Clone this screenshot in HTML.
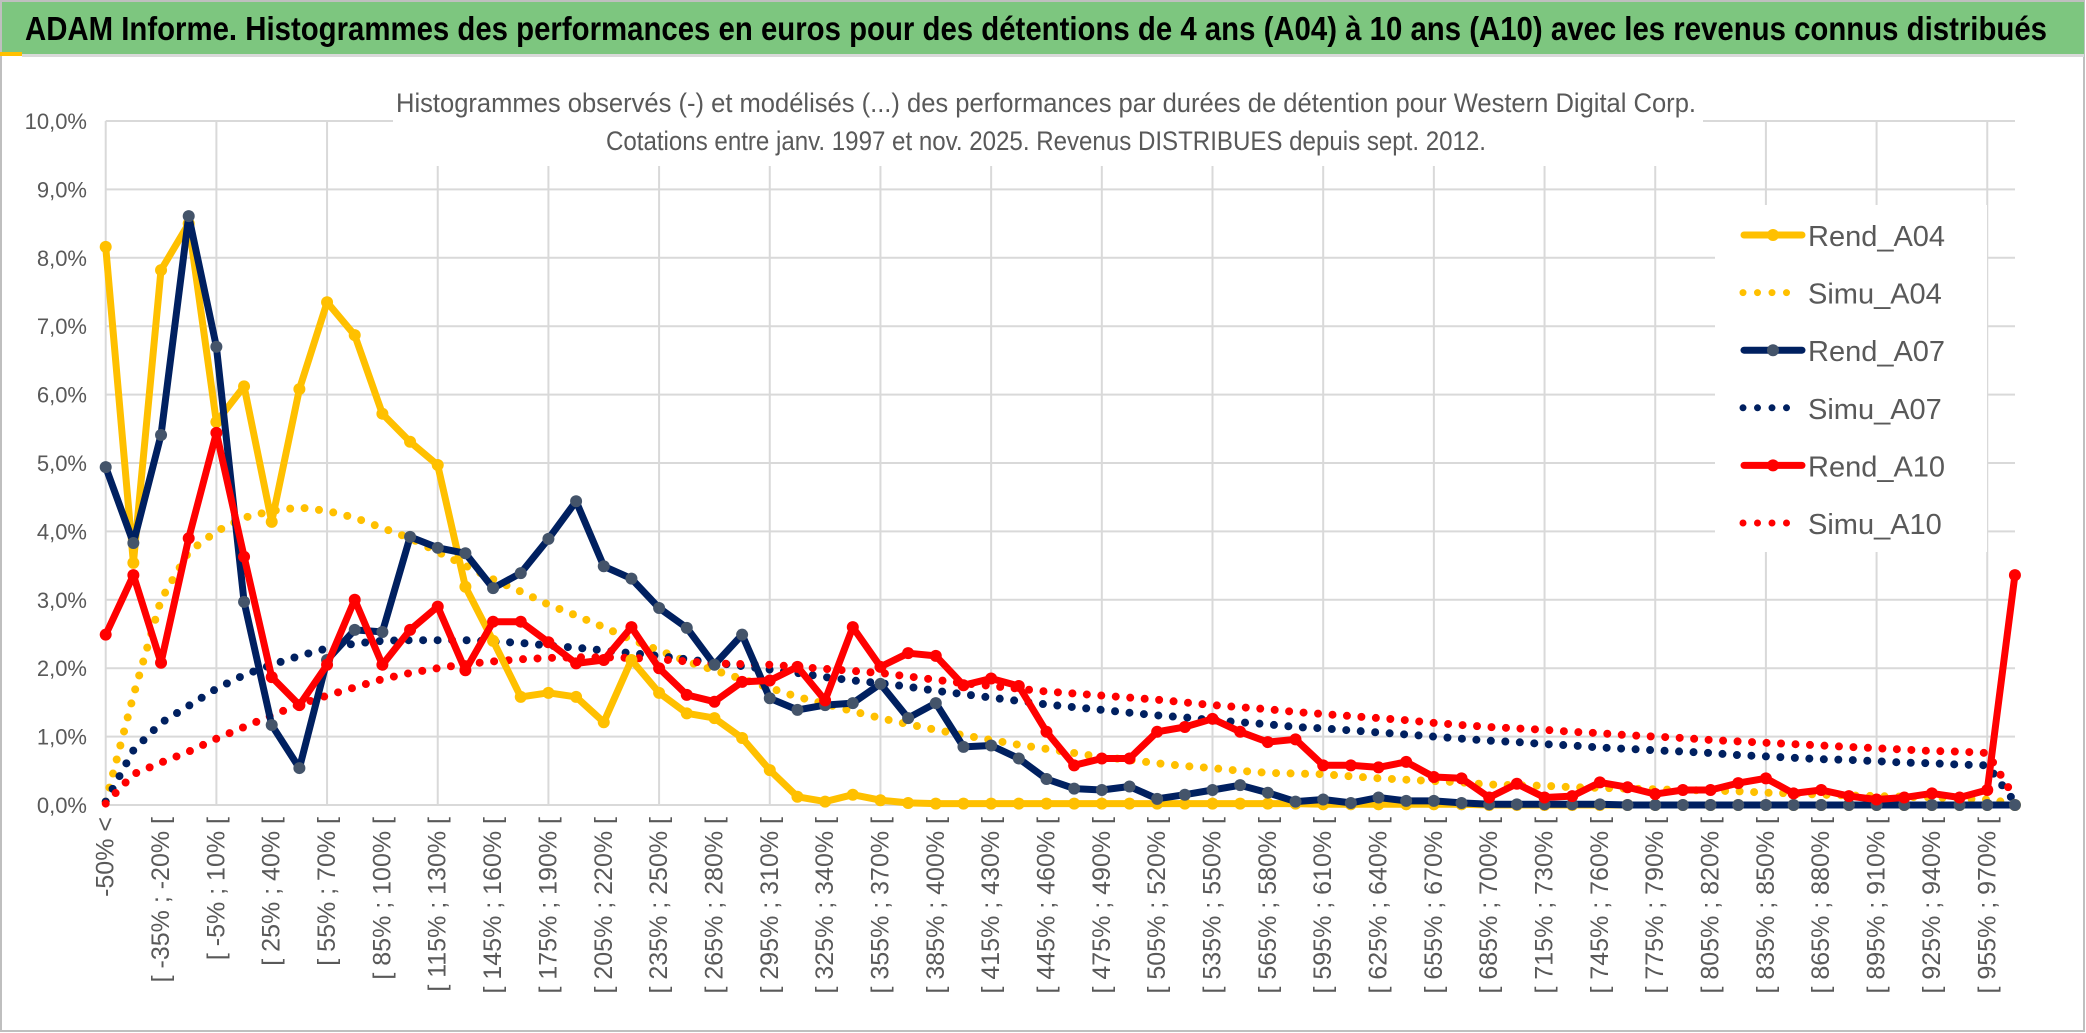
<!DOCTYPE html>
<html><head><meta charset="utf-8"><style>
html,body{margin:0;padding:0;background:#fff;}
svg{display:block;font-family:"Liberation Sans",sans-serif;}
</style></head><body>
<svg id="chart" width="2086" height="1033" viewBox="0 0 2086 1033" xmlns="http://www.w3.org/2000/svg">
<rect x="0" y="0" width="2086" height="1033" fill="#fff"/>
<rect x="1" y="1" width="2083" height="1030" fill="none" stroke="#bfbfbf" stroke-width="2"/>
<rect x="2" y="2" width="2082" height="52" fill="#7dc67f"/>
<rect x="0" y="52" width="22" height="4" fill="#ffc000"/>
<rect x="22" y="54" width="2062" height="3" fill="#d9d9d9"/>
<text x="25" y="40" font-size="33" font-weight="bold" fill="#000" textLength="2022" lengthAdjust="spacingAndGlyphs">ADAM Informe. Histogrammes des performances en euros pour des détentions de 4 ans (A04) à 10 ans (A10) avec les revenus connus distribués</text>
<g id="grid"></g>
<g id="yaxis"></g>
<g id="xaxis"></g>
<rect x="393" y="78" width="1310" height="88" fill="#fff"/>
<text x="1046" y="112" font-size="27" fill="#595959" text-anchor="middle" textLength="1300" lengthAdjust="spacingAndGlyphs">Histogrammes observés (-) et modélisés (...) des performances par durées de détention pour Western Digital Corp.</text>
<text x="1046" y="150" font-size="27" fill="#595959" text-anchor="middle" textLength="880" lengthAdjust="spacingAndGlyphs">Cotations entre janv. 1997 et nov. 2025. Revenus DISTRIBUES depuis sept. 2012.</text>
<g id="series"></g>
<g id="legend"></g>
</svg>
<script>
const categories = (function(){const a=["-50% <"];for(let k=1;k<69;k++){const lo=-50+15*(k-1);a.push("[ "+lo+"% ; "+(lo+15)+"% [");}a.push("970% >");return a;})();
const yTicks = [0,1,2,3,4,5,6,7,8,9,10];
const yTickLabels = ["0,0%","1,0%","2,0%","3,0%","4,0%","5,0%","6,0%","7,0%","8,0%","9,0%","10,0%"];
const rendA04 = [8.16,3.54,7.82,8.5,5.6,6.12,4.14,6.08,7.35,6.87,5.72,5.31,4.97,3.19,2.4,1.58,1.64,1.58,1.21,2.12,1.64,1.34,1.27,0.98,0.51,0.12,0.05,0.15,0.07,0.03,0.02,0.02,0.02,0.02,0.02,0.02,0.02,0.02,0.02,0.02,0.02,0.02,0.02,0.02,0.01,0.01,0.01,0.01,0.01,0.01,0,0,0,0,0,0,0,0,0,0,0,0,0,0,0,0,0,0,0,0];
const simuA04 = [0.05,1.6,3.0,3.7,4.0,4.2,4.3,4.35,4.3,4.2,4.05,3.9,3.7,3.5,3.3,3.12,2.93,2.77,2.6,2.42,2.26,2.1,1.97,1.84,1.71,1.58,1.48,1.37,1.27,1.18,1.1,1.02,0.95,0.88,0.82,0.76,0.7,0.66,0.61,0.57,0.54,0.5,0.47,0.46,0.45,0.42,0.39,0.37,0.35,0.33,0.3,0.29,0.28,0.26,0.25,0.24,0.23,0.22,0.21,0.2,0.18,0.17,0.15,0.14,0.13,0.12,0.11,0.1,0.08,0.02];
const rendA07 = [4.94,3.83,5.41,8.61,6.7,2.97,1.17,0.54,2.12,2.56,2.53,3.92,3.76,3.68,3.17,3.39,3.89,4.44,3.49,3.31,2.88,2.59,2.05,2.49,1.56,1.39,1.46,1.49,1.77,1.27,1.49,0.85,0.87,0.68,0.38,0.24,0.22,0.27,0.09,0.15,0.22,0.29,0.18,0.05,0.08,0.03,0.11,0.06,0.06,0.03,0.01,0.01,0.01,0.01,0.01,0,0,0,0,0,0,0,0,0,0,0,0,0,0,0];
const simuA07 = [0.05,0.8,1.2,1.45,1.7,1.9,2.05,2.18,2.29,2.36,2.4,2.41,2.41,2.41,2.39,2.37,2.33,2.3,2.26,2.22,2.18,2.13,2.08,2.03,1.98,1.93,1.87,1.82,1.78,1.73,1.67,1.62,1.57,1.52,1.47,1.43,1.39,1.35,1.31,1.28,1.24,1.21,1.18,1.14,1.12,1.09,1.06,1.03,1.0,0.97,0.94,0.92,0.89,0.87,0.84,0.82,0.8,0.78,0.76,0.73,0.71,0.69,0.67,0.66,0.64,0.62,0.61,0.59,0.58,0.04];
const rendA10 = [2.49,3.36,2.08,3.9,5.44,3.63,1.87,1.46,2.05,3.0,2.05,2.56,2.9,1.97,2.68,2.68,2.38,2.07,2.12,2.6,2.0,1.61,1.51,1.8,1.82,2.02,1.53,2.6,2.02,2.22,2.18,1.75,1.85,1.74,1.07,0.58,0.68,0.68,1.07,1.14,1.26,1.07,0.92,0.96,0.58,0.58,0.55,0.63,0.41,0.39,0.11,0.31,0.11,0.13,0.33,0.26,0.16,0.22,0.22,0.32,0.39,0.17,0.22,0.13,0.08,0.11,0.17,0.11,0.22,3.36];
const simuA10 = [0.02,0.45,0.62,0.78,0.97,1.14,1.31,1.47,1.6,1.72,1.84,1.93,2.0,2.06,2.1,2.13,2.15,2.16,2.16,2.15,2.13,2.1,2.07,2.06,2.05,2.02,1.99,1.96,1.93,1.88,1.83,1.78,1.74,1.7,1.66,1.63,1.6,1.57,1.54,1.5,1.46,1.43,1.4,1.36,1.33,1.3,1.27,1.24,1.2,1.17,1.14,1.12,1.1,1.07,1.05,1.02,1.0,0.98,0.95,0.93,0.91,0.89,0.87,0.85,0.83,0.81,0.79,0.78,0.76,0.1];
const seriesNames = ["Rend_A04","Simu_A04","Rend_A07","Simu_A07","Rend_A10","Simu_A10"];

const NS="http://www.w3.org/2000/svg";
const X0=105.7, DX=27.67, Y0=805, YS=68.4, XR=2015;
function xPos(i){return X0+i*DX;}
function yPos(v){return Y0-v*YS;}
function mk(tag,attrs,parent){const e=document.createElementNS(NS,tag);for(const k in attrs)e.setAttribute(k,attrs[k]);parent.appendChild(e);return e;}

const grid=document.getElementById('grid');
for(let t=0;t<yTicks.length;t++){
  const l=mk('line',{x1:X0,x2:XR,y1:yPos(yTicks[t]),y2:yPos(yTicks[t]),stroke:'#d9d9d9','stroke-width':2},grid);
  
  
}
for(let i=0;i<categories.length;i+=4){
  const l=mk('line',{x1:xPos(i),x2:xPos(i),y1:yPos(10),y2:Y0,stroke:'#d9d9d9','stroke-width':2},grid);
  
  
}
const yaxis=document.getElementById('yaxis');
for(let t=0;t<yTicks.length;t++){
  const tx=mk('text',{x:87,y:yPos(yTicks[t])+8,'font-size':22,fill:'#595959','text-anchor':'end'},yaxis);
  tx.textContent=yTickLabels[t];
  
  
}
const xaxis=document.getElementById('xaxis');
for(let i=0;i<categories.length;i+=2){
  const x=xPos(i)+8,y=817;
  const tx=mk('text',{x:x,y:y,'font-size':25,fill:'#595959','text-anchor':'end',transform:'rotate(-90 '+x+' '+y+')'},xaxis);
  tx.textContent=categories[i];
  
  
}
const sg=document.getElementById('series');
function pts(arr){return arr.map((v,i)=>xPos(i).toFixed(1)+','+yPos(v).toFixed(1)).join(' ');}
function dotted(arr,color,name){
  const p=mk('polyline',{points:pts(arr),fill:'none',stroke:color,'stroke-width':8,'stroke-linecap':'round','stroke-dasharray':'0 14.5'},sg);
  
  
}
function solid(arr,color,mcolor,name){
  const p=mk('polyline',{points:pts(arr),fill:'none',stroke:color,'stroke-width':7,'stroke-linejoin':'round'},sg);
  
  
  arr.forEach((v,i)=>{
    const c=mk('circle',{cx:xPos(i),cy:yPos(v),r:6,fill:mcolor},sg);
    
    
  });
}
dotted(simuA04,'#ffc000','simu-a04-line');
dotted(simuA07,'#002060','simu-a07-line');
dotted(simuA10,'#ff0000','simu-a10-line');
solid(rendA04,'#ffc000','#ffc000','rend-a04-line');
solid(rendA07,'#002060','#44546a','rend-a07-line');
solid(rendA10,'#ff0000','#ff0000','rend-a10-line');

const lg=document.getElementById('legend');
mk('rect',{x:1715,y:205,width:272,height:347,fill:'#fff'},lg);
const lcol=['#ffc000','#ffc000','#002060','#002060','#ff0000','#ff0000'];
const lmk=['#ffc000',null,'#44546a',null,'#ff0000',null];
for(let k=0;k<seriesNames.length;k++){
  const y=235+k*57.6;
  const g=mk('g',{},lg);
  
  
  if(k%2===0){
    mk('line',{x1:1744,x2:1802,y1:y,y2:y,stroke:lcol[k],'stroke-width':7,'stroke-linecap':'round'},g);
    mk('circle',{cx:1773,cy:y,r:6,fill:lmk[k]},g);
  } else {
    mk('line',{x1:1743,x2:1790,y1:y,y2:y,stroke:lcol[k],'stroke-width':7,'stroke-linecap':'round','stroke-dasharray':'0 14.5'},g);
  }
  const t=mk('text',{x:1808,y:y+11,'font-size':29,fill:'#595959'},g);
  t.textContent=seriesNames[k];
}
</script>
</body></html>
